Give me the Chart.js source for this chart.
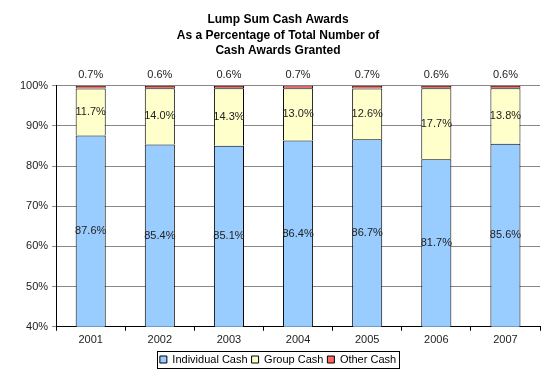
<!DOCTYPE html>
<html><head><meta charset="utf-8">
<script src="https://cdn.jsdelivr.net/npm/chart.js@4/dist/chart.umd.min.js"></script>
<style>html,body{margin:0;padding:0;background:#fff}#wrap{width:550px;height:376px}</style>
</head><body><div id="wrap"><canvas id="c" width="550" height="376"></canvas></div>
<script>
const years = ['2001','2002','2003','2004','2005','2006','2007'];
const individualCash = [87.6,85.4,85.1,86.4,86.7,81.7,85.6];
const groupCash = [11.7,14.0,14.3,13.0,12.6,17.7,13.8];
const otherCash = [0.7,0.6,0.6,0.7,0.7,0.6,0.6];
const seriesNames = ['Individual Cash','Group Cash','Other Cash'];
const titleLines = ['Lump Sum Cash Awards','As a Percentage of Total Number of','Cash Awards Granted'];

const FONT = "'Liberation Sans', Arial, sans-serif";

const labelPlugin = {
  id:'labels',
  afterDatasetsDraw(chart){
    const ctx = chart.ctx, area = chart.chartArea;
    ctx.save();
    ctx.font = '11px ' + FONT;
    ctx.fillStyle = '#222';
    ctx.textAlign = 'center';
    ctx.textBaseline = 'middle';
    chart.data.datasets.forEach((ds, di) => {
      const meta = chart.getDatasetMeta(di);
      meta.data.forEach((bar, i) => {
        const v = ds.data[i];
        const txt = v.toFixed(1) + '%';
        if (di === 2) {
          ctx.fillText(txt, bar.x, area.top - 11);
        } else {
          const top = Math.max(Math.min(bar.y, bar.base), area.top);
          const bot = Math.min(Math.max(bar.y, bar.base), area.bottom);
          ctx.fillText(txt, bar.x, (top + bot) / 2);
        }
      });
    });
    ctx.restore();
  }
};

const legendBox = {
  id:'legendBox',
  afterDraw(chart){
    const lg = chart.legend;
    if (!lg || !lg.legendHitBoxes || !lg.legendHitBoxes.length) return;
    const hb = lg.legendHitBoxes;
    const x0 = hb[0].left - 3, x1 = hb[hb.length-1].left + hb[hb.length-1].width + 3;
    const y0 = hb[0].top - 3, y1 = hb[0].top + hb[0].height + 3;
    const ctx = chart.ctx;
    ctx.save();
    ctx.strokeStyle = '#000';
    ctx.lineWidth = 1;
    ctx.strokeRect(Math.round(x0)+0.5, Math.round(y0)+0.5, Math.round(x1-x0), Math.round(y1-y0));
    ctx.restore();
  }
};

new Chart(document.getElementById('c'), {
  type:'bar',
  data:{
    labels: years,
    datasets:[
      {label:seriesNames[0], data:individualCash, backgroundColor:'#99ccff', borderColor:'#000', borderWidth:1},
      {label:seriesNames[1], data:groupCash, backgroundColor:'#ffffcc', borderColor:'#000', borderWidth:1},
      {label:seriesNames[2], data:otherCash, backgroundColor:'#ff6666', borderColor:'#000', borderWidth:1}
    ]
  },
  options:{
    responsive:false,
    animation:false,
    devicePixelRatio:1,
    layout:{padding:{left:16,right:10,top:0,bottom:1}},
    datasets:{bar:{categoryPercentage:1, barPercentage:0.435}},
    plugins:{
      title:{display:true, text:titleLines, color:'#000', font:{family:FONT, size:12, weight:'bold', lineHeight:1.3}, padding:{top:12,bottom:27}},
      legend:{position:'bottom', labels:{boxWidth:7, boxHeight:7, color:'#000', font:{family:FONT, size:11}, padding:4,
        generateLabels(chart){
          return chart.data.datasets.map((d,i)=>({text:d.label, fillStyle:d.backgroundColor, strokeStyle:'#000', lineWidth:1, datasetIndex:i, fontColor:'#000'}));
        }}},
      tooltip:{enabled:false}
    },
    scales:{
      x:{stacked:true,
        grid:{offset:true, drawOnChartArea:false, drawTicks:true, tickLength:4, color:'#000'},
        border:{color:'#000'},
        ticks:{color:'#222', font:{family:FONT, size:11}, padding:3}
      },
      y:{stacked:true, min:40, max:100,
        grid:{color:'#888', tickLength:4, drawTicks:true},
        border:{color:'#000'},
        ticks:{stepSize:10, color:'#222', font:{family:FONT, size:11}, padding:4, callback:v=>v+'%'}
      }
    }
  },
  plugins:[labelPlugin, legendBox]
});
</script></body></html>
